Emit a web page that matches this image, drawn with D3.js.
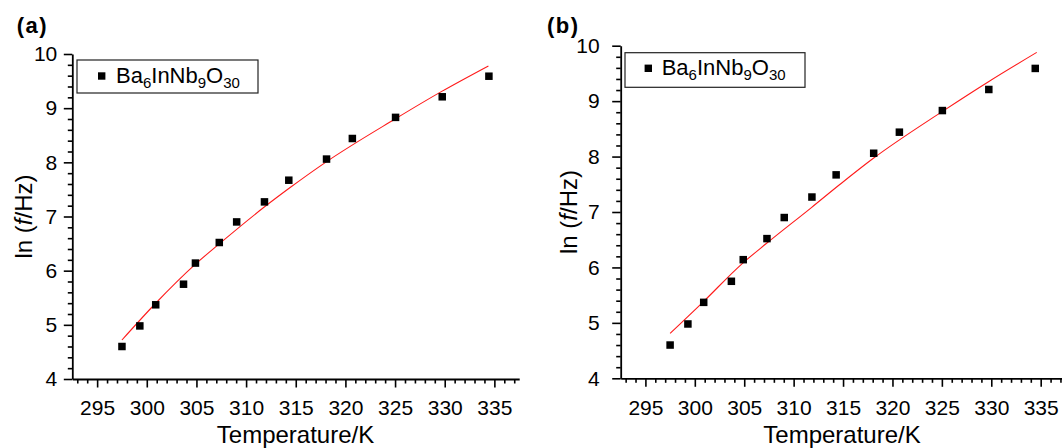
<!DOCTYPE html>
<html><head><meta charset="utf-8">
<script src="https://cdn.jsdelivr.net/npm/d3@7"></script>
<style>
html,body{margin:0;padding:0;background:#fff;overflow:hidden;}
svg{display:block;font-family:"Liberation Sans",Arial,Helvetica,sans-serif;}
</style></head>
<body>
<svg id="chart" width="1062" height="448"></svg>
<script>
// ---- data ----
const temperature = [297.5, 299.3, 300.9, 303.7, 304.9, 307.3, 309.05, 311.85, 314.3, 318.1, 320.7, 325.05, 329.75, 334.45];
const lnFreq      = [4.60, 4.98, 5.37, 5.75, 6.14, 6.52, 6.90, 7.27, 7.67, 8.06, 8.44, 8.83, 9.21, 9.59];

const fitATemp = [297.5, 300.8, 304.9, 307.2, 311.8, 314.4, 318.0, 325.0, 329.7, 334.4];
const fitAVal  = [4.72, 5.38, 6.12, 6.48, 7.17, 7.53, 8.00, 8.80, 9.31, 9.78];
const fitBTemp = [297.5, 300.8, 304.8, 307.3, 311.8, 314.7, 318.0, 325.1, 329.8, 334.6];
const fitBVal  = [4.81, 5.37, 6.07, 6.44, 7.08, 7.50, 7.96, 8.82, 9.36, 9.88];

const xTicks = [295, 300, 305, 310, 315, 320, 325, 330, 335];
const yTicks = [4, 5, 6, 7, 8, 9, 10];
const xDomain = [292.5, 337.5];
const yDomain = [4, 10];
const seriesName = ["Ba", "6", "InNb", "9", "O", "30"];
const panelLabels = ["(a)", "(b)"];

// ---- layout ----
const panels = [
  {label: panelLabels[0], x0: 72.3, x1: 519.2, y0: 379, y1: 54, fitT: fitATemp, fitV: fitAVal,
   labelX: 16.7, leg: {x: 77, y: 60, w: 181, h: 33, mx: 101.7, my: 76, tx: 116, ty: 82.7},
   yTitleX: 31.7, yLabGap: 13, titleX: 295.5},
  {label: panelLabels[1], x0: 620.7, x1: 1065.4, y0: 378.3, y1: 45.7, fitT: fitBTemp, fitV: fitBVal,
   labelX: 547, leg: {x: 625, y: 52.7, w: 180, h: 34.6, mx: 648.3, my: 68.3, tx: 661.7, ty: 75},
   yTitleX: 577, yLabGap: 19, titleX: 842}
];

const svg = d3.select("#chart");
const FONT = 21;
const FF = "'Liberation Sans',Arial,sans-serif";

panels.forEach(p => {
  const g = svg.append("g");
  const x = d3.scaleLinear().domain(xDomain).range([p.x0, p.x1]);
  const y = d3.scaleLinear().domain(yDomain).range([p.y0, p.y1]);

  const minorX = d3.range(293, 338, 1).filter(v => v % 5 !== 0);
  const minorY = d3.range(0, 31).map(i => 4 + i * 0.2).filter(v => Math.abs(v - Math.round(v)) > 1e-6);

  // minor ticks x
  g.append("g").attr("transform", `translate(0,${p.y0})`)
    .call(d3.axisBottom(x).tickValues(minorX).tickSize(4.5).tickFormat(""))
    .call(s => s.select(".domain").remove())
    .call(s => s.selectAll("line").attr("stroke", "#000").attr("stroke-width", 1.6));
  // major x
  g.append("g").attr("transform", `translate(0,${p.y0})`)
    .call(d3.axisBottom(x).tickValues(xTicks).tickFormat(d3.format("d")).tickSize(8.5).tickSizeOuter(0).tickPadding(13))
    .call(s => s.select(".domain").attr("stroke", "#000").attr("stroke-width", 1.8))
    .call(s => s.selectAll("line").attr("stroke", "#000").attr("stroke-width", 1.6))
    .call(s => s.selectAll("text").attr("font-size", FONT).attr("fill", "#000").attr("font-family", FF));

  // minor y
  g.append("g").attr("transform", `translate(${p.x0},0)`)
    .call(d3.axisLeft(y).tickValues(minorY).tickSize(4.5).tickFormat(""))
    .call(s => s.select(".domain").remove())
    .call(s => s.selectAll("line").attr("stroke", "#000").attr("stroke-width", 1.6));
  // major y
  g.append("g").attr("transform", `translate(${p.x0},0)`)
    .call(d3.axisLeft(y).tickValues(yTicks).tickFormat(d3.format("d")).tickSize(8.5).tickSizeOuter(0).tickPadding(p.yLabGap - 8.5 + 2))
    .call(s => s.select(".domain").attr("stroke", "#000").attr("stroke-width", 1.8))
    .call(s => s.selectAll("line").attr("stroke", "#000").attr("stroke-width", 1.6))
    .call(s => s.selectAll("text").attr("font-size", FONT).attr("fill", "#000").attr("font-family", FF));

  // fit line
  const fit = p.fitT.map((t, i) => [t, p.fitV[i]]);
  g.append("path").datum(fit)
    .attr("fill", "none").attr("stroke", "#ff1a1a").attr("stroke-width", 1.1)
    .attr("d", d3.line().x(d => x(d[0])).y(d => y(d[1])).curve(d3.curveMonotoneX));

  // data points
  const sz = 7.5;
  g.selectAll("rect.pt").data(temperature.map((t, i) => [t, lnFreq[i]]))
    .enter().append("rect").attr("class", "pt")
    .attr("x", d => x(d[0]) - sz / 2).attr("y", d => y(d[1]) - sz / 2)
    .attr("width", sz).attr("height", sz).attr("fill", "#000");

  // axis titles
  g.append("text").attr("x", p.titleX)
    .attr("y", 442.5).attr("text-anchor", "middle").attr("font-size", 24).attr("fill", "#000")
    .text("Temperature/K");

  const yt = g.append("text")
    .attr("transform", `translate(${p.yTitleX},${(p.y0 + p.y1) / 2}) rotate(-90)`)
    .attr("text-anchor", "middle").attr("font-size", 24).attr("fill", "#000");
  yt.append("tspan").text("ln (");
  yt.append("tspan").attr("font-style", "italic").text("f");
  yt.append("tspan").text("/Hz)");

  // panel label
  g.append("text").attr("x", p.labelX).attr("y", 32.7)
    .attr("font-size", 22).attr("font-weight", "bold").attr("letter-spacing", 1.5)
    .attr("fill", "#000").text(p.label);

  // legend
  const L = p.leg;
  g.append("rect").attr("x", L.x).attr("y", L.y).attr("width", L.w).attr("height", L.h)
    .attr("fill", "#fff").attr("stroke", "#222").attr("stroke-width", 1.2);
  g.append("rect").attr("x", L.mx - 3.7).attr("y", L.my - 3.7).attr("width", 7.4).attr("height", 7.4).attr("fill", "#000");
  const lt = g.append("text").attr("x", L.tx).attr("y", L.ty).attr("font-size", 22).attr("fill", "#000");
  seriesName.forEach((s, i) => {
    const isSub = i % 2 === 1;
    const t = lt.append("tspan").text(s);
    if (isSub) t.attr("font-size", 15).attr("dy", 5);
    else if (i > 0) t.attr("dy", -5);
  });
});
</script>
</body></html>
